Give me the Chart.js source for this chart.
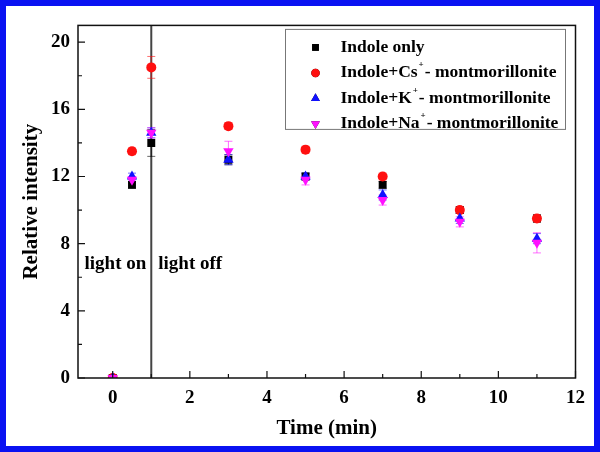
<!DOCTYPE html>
<html><head><meta charset="utf-8">
<script src="https://cdn.jsdelivr.net/npm/chart.js@4/dist/chart.umd.min.js"></script>
<style>
html,body{margin:0;padding:0;background:#fff;}
#frame{position:absolute;left:0;top:0;width:588px;height:440px;border:6px solid #0a12f2;background:#fff;}
#wrap{position:relative;width:588px;height:440px;}
</style></head><body>
<div id="frame"><div id="wrap"><canvas id="c"></canvas></div></div>
<script>
// ---- data ----
const times = [0, 0.5, 1, 3, 5, 7, 9, 11];
const seriesLabels = ['Indole only', 'Indole+Cs⁺- montmorillonite', 'Indole+K⁺- montmorillonite', 'Indole+Na⁺- montmorillonite'];
const indoleOnly    = [0, 11.5, 14.0, 13.0, 12.0, 11.5, 10.0, 9.5];
const indoleOnlyErr = [0, 0.2, 0.8, 0.3, 0.2, 0.2, 0.2, 0.2];
const indoleCs      = [0, 13.5, 18.5, 15.0, 13.6, 12.0, 10.0, 9.5];
const indoleCsErr   = [0, 0.2, 0.65, 0.2, 0.2, 0.2, 0.2, 0.2];
const indoleK       = [0, 12.0, 14.6, 13.0, 12.0, 10.9, 9.5, 8.3];
const indoleKErr    = [0, 0.2, 0.3, 0.3, 0.2, 0.3, 0.3, 0.3];
const indoleNa      = [0, 11.8, 14.6, 13.5, 11.8, 10.6, 9.3, 8.05];
const indoleNaErr   = [0, 0.2, 0.3, 0.6, 0.3, 0.3, 0.3, 0.6];
const xTicks = [0, 2, 4, 6, 8, 10, 12];
const xMinorTicks = [1, 3, 5, 7, 9, 11];
const yTicks = [0, 4, 8, 12, 16, 20];
const yMinorTicks = [2, 6, 10, 14, 18];
const lightSwitchTime = 1;
const annotations = ['light on', 'light off'];

const FONT = '"Liberation Serif","Times New Roman",serif';
const colors = ['#000000', '#ff1010', '#1010ff', '#ff10ff'];
const styles = ['rect', 'circle', 'triangle', 'triangle'];
const rotations = [0, 0, 0, 180];
const radii = [5.6, 5, 6, 6];
const values = [indoleOnly, indoleCs, indoleK, indoleNa];
const errs = [indoleOnlyErr, indoleCsErr, indoleKErr, indoleNaErr];
const orders = [3, 2, 1, 0];

const datasets = values.map((vals, i) => ({
  label: seriesLabels[i],
  data: times.map((t, j) => ({x: t, y: vals[j]})),
  errors: errs[i],
  pointStyle: styles[i],
  pointRotation: rotations[i],
  pointRadius: radii[i],
  pointHoverRadius: radii[i],
  backgroundColor: colors[i],
  borderColor: colors[i],
  pointBorderWidth: 0,
  showLine: false,
  order: orders[i]
}));

const decor = {
  id: 'decor',
  beforeDatasetsDraw(chart) {
    const {ctx, chartArea: a, scales: {x, y}} = chart;
    ctx.save();
    const lx = x.getPixelForValue(lightSwitchTime);
    ctx.strokeStyle = '#444';
    ctx.lineWidth = 2;
    ctx.beginPath(); ctx.moveTo(lx, a.top); ctx.lineTo(lx, a.bottom); ctx.stroke();
    chart.data.datasets.forEach((ds) => {
      ctx.strokeStyle = ds.borderColor;
      ctx.globalAlpha = 0.6;
      ctx.lineWidth = 1;
      ds.data.forEach((p, j) => {
        const e = ds.errors[j];
        if (!e) return;
        const px = x.getPixelForValue(p.x);
        const y1 = y.getPixelForValue(p.y + e), y2 = y.getPixelForValue(p.y - e);
        ctx.beginPath();
        ctx.moveTo(px, y1); ctx.lineTo(px, y2);
        ctx.moveTo(px - 4, y1); ctx.lineTo(px + 4, y1);
        ctx.moveTo(px - 4, y2); ctx.lineTo(px + 4, y2);
        ctx.stroke();
      });
    });
    ctx.restore();
  },
  afterDatasetsDraw(chart) {
    const {ctx, chartArea: a, scales: {x, y}} = chart;
    ctx.save();
    ctx.strokeStyle = '#111';
    ctx.lineWidth = 1.5;
    ctx.strokeRect(a.left, a.top, a.right - a.left, a.bottom - a.top);
    ctx.lineWidth = 1.2;
    ctx.beginPath();
    xTicks.forEach(v => { const p = x.getPixelForValue(v); ctx.moveTo(p, a.bottom); ctx.lineTo(p, a.bottom - 7); });
    xMinorTicks.forEach(v => { const p = x.getPixelForValue(v); ctx.moveTo(p, a.bottom); ctx.lineTo(p, a.bottom - 4); });
    yTicks.forEach(v => { const p = y.getPixelForValue(v); ctx.moveTo(a.left, p); ctx.lineTo(a.left + 7, p); });
    yMinorTicks.forEach(v => { const p = y.getPixelForValue(v); ctx.moveTo(a.left, p); ctx.lineTo(a.left + 4, p); });
    ctx.stroke();
    const lx = x.getPixelForValue(lightSwitchTime);
    const ty = y.getPixelForValue(6.8);
    ctx.fillStyle = '#000';
    ctx.font = 'bold 19px ' + FONT;
    ctx.textBaseline = 'middle';
    ctx.textAlign = 'right';
    ctx.fillText(annotations[0], lx - 5, ty);
    ctx.textAlign = 'left';
    ctx.fillText(annotations[1], lx + 7, ty);
    const bw = 280, bh = 100;
    const bx = a.right - 10 - bw, by = a.top + 4;
    ctx.strokeStyle = '#777';
    ctx.lineWidth = 1;
    ctx.strokeRect(bx, by, bw, bh);
    chart.data.datasets.forEach((ds, i) => {
      const cy = by + 18 + i * 25.5;
      Chart.helpers.drawPoint(ctx, {pointStyle: ds.pointStyle, rotation: ds.pointRotation, radius: ds.pointRadius * 0.85, borderWidth: 0}, bx + 30, cy);
      ctx.fillStyle = ds.backgroundColor;
      ctx.fill();
      ctx.fillStyle = '#000';
      ctx.textAlign = 'left';
      ctx.textBaseline = 'middle';
      const parts = ds.label.split('⁺');
      let tx = bx + 55;
      ctx.font = 'bold 17.5px ' + FONT;
      ctx.fillText(parts[0], tx, cy);
      tx += ctx.measureText(parts[0]).width;
      if (parts.length > 1) {
        ctx.font = 'bold 9px ' + FONT;
        ctx.fillText('+', tx + 1, cy - 8);
        tx += ctx.measureText('+').width + 2;
        ctx.font = 'bold 17.5px ' + FONT;
        ctx.fillText(parts[1], tx, cy);
      }
    });
    ctx.restore();
  }
};

new Chart(document.getElementById('c'), {
  type: 'scatter',
  data: {datasets},
  options: {
    responsive: true,
    maintainAspectRatio: false,
    animation: false,
    layout: {padding: {top: 6, right: 17, left: 0, bottom: 0}},
    plugins: {legend: {display: false}, tooltip: {enabled: false}},
    scales: {
      x: {
        type: 'linear', min: -0.9, max: 12,
        afterBuildTicks: s => { s.ticks = xTicks.map(v => ({value: v})); },
        afterFit: s => { s.height = 68; },
        grid: {display: false, drawTicks: false},
        border: {display: false},
        ticks: {padding: 9, color: '#000', font: {family: FONT, weight: 'bold', size: 19}},
        title: {display: true, text: 'Time (min)', color: '#000', padding: {top: 0, bottom: 5}, font: {family: FONT, weight: 'bold', size: 21}}
      },
      y: {
        type: 'linear', min: 0, max: 21,
        afterBuildTicks: s => { s.ticks = yTicks.map(v => ({value: v})); },
        afterFit: s => { s.width = 72; },
        grid: {display: false, drawTicks: false},
        border: {display: false},
        ticks: {padding: 8, color: '#000', font: {family: FONT, weight: 'bold', size: 19}},
        title: {display: true, text: 'Relative intensity', color: '#000', padding: {top: 13, bottom: 0}, font: {family: FONT, weight: 'bold', size: 21}}
      }
    }
  },
  plugins: [decor]
});
</script>
</body></html>
